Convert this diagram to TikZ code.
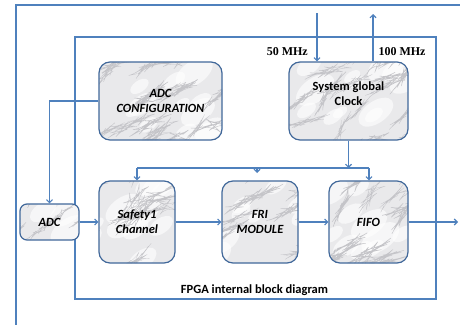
\documentclass[tikz,border=0pt]{standalone}
\usepackage{fontspec}
\setmainfont{Carlito}
\newfontfamily\timesfont{Liberation Serif}
\usetikzlibrary{arrows.meta,decorations.pathmorphing}
\definecolor{wire}{HTML}{4F81BD}
\definecolor{rim}{HTML}{41689A}
\definecolor{stone}{HTML}{E9E9EB}
\definecolor{vein}{HTML}{C4C4C8}
\pgfmathsetseed{11}
\tikzset{
  wirepath/.style={draw=wire, line width=1.1pt},
  tip/.style={-{Straight Barb[length=3pt,width=6pt]}},
  marble/.style={path picture={
    % pale patches
    \foreach \k in {1,...,12}{
      \pgfmathsetmacro\dx{rand*60}
      \pgfmathsetmacro\dy{rand*40}
      \pgfmathsetmacro\rx{8+rnd*14}
      \fill[white, opacity=0.6]
        ([shift={(\dx,\dy)}]path picture bounding box.center)
        ellipse [x radius=\rx pt, y radius=0.55*\rx pt, rotate=35];
    }
    % thin veins
    \foreach \k in {1,...,20}{
      \pgfmathsetmacro\dx{rand*70}
      \pgfmathsetmacro\dy{rand*48}
      \pgfmathsetmacro\lx{10+rnd*26}
      \pgfmathsetmacro\ly{-(5+rnd*18)}
      \pgfmathsetmacro\lw{0.2+rnd*0.3}
      \draw[vein, line width=\lw pt, decorate,
            decoration={random steps, segment length=3pt, amplitude=1.1pt}]
        ([shift={(\dx,\dy)}]path picture bounding box.center) -- ++(\lx,\ly);
    }}},
  block/.style={draw=rim, line width=1.2pt, rounded corners=11pt, fill=stone,
    marble, inner sep=0pt, align=center,
    font=\fontsize{12.5}{15}\selectfont\bfseries\itshape},
  mhz/.style={font=\fontsize{12}{13}\selectfont\timesfont\bfseries, inner sep=0pt}
}
\begin{document}
\begin{tikzpicture}[x=1pt, y=-1pt]
\useasboundingbox (0,0) rectangle (460,324);
\fill[white] (0,0) rectangle (460,324);

% outer frame, running off the page
\draw[wirepath] (16,326) -- (16,5) -- (462,5);
% FPGA boundary
\draw[wirepath] (75,37) rectangle (436,299);

% blocks
\node[block, minimum width=123pt, minimum height=78pt] (cfg) at (160.5,101) {ADC\\CONFIGURATION};
\node[block, minimum width=119pt, minimum height=78pt] (clk) at (348.5,101) {};
\node[font=\fontsize{12.5}{15}\selectfont\bfseries, align=center] (clkname) at (348.5,93.5) {System global\\Clock};
\node[block, minimum width=76pt, minimum height=82pt] (saf) at (137,222) {Safety1\\Channel};
\node[block, minimum width=76pt, minimum height=82pt] (fri) at (260,222) {FRI\\MODULE};
\node[block, minimum width=79pt, minimum height=82pt] (fifo) at (368.5,222) {FIFO};
\node[block, rounded corners=7pt, minimum width=59pt, minimum height=36pt] (adc) at (49.5,222) {ADC};

% free ends
\coordinate (in50) at (317,13);
\coordinate (out100) at (373,14);
\coordinate (dout) at (458,222);
\coordinate (busL) at (137,168);
\coordinate (busR) at (369,168);
\coordinate (friTap) at (257,173);

% data path
\draw[wirepath, tip] (cfg.west) -| (adc.north);
\draw[wirepath, tip] (adc) -- (saf);
\draw[wirepath, tip] (saf) -- (fri);
\draw[wirepath, tip] (fri) -- (fifo);
\draw[wirepath, tip] (fifo.east) -- (dout);

% clock distribution
\draw[wirepath, tip] (in50) -- (in50 |- clk.north);
\draw[wirepath, tip] (out100 |- clk.north) -- (out100);
\draw[wirepath, tip] (clk.south) -- (clk.south |- busL);
\draw[wirepath] (busL) -- (busR);
\draw[wirepath, tip] (busL) -- (saf.north);
\draw[wirepath, tip] (busR) -- (busR |- fifo.north);
\draw[wirepath, tip] (friTap |- busL) -- (friTap);

% labels
\node[mhz, anchor=east] (f50) at (308,52) {50 MHz};
\node[mhz] (f100) at (402,52) {100 MHz};
\node[font=\fontsize{12.5}{15}\selectfont\bfseries] (title) at (254.5,290) {FPGA internal block diagram};
\end{tikzpicture}
\end{document}
